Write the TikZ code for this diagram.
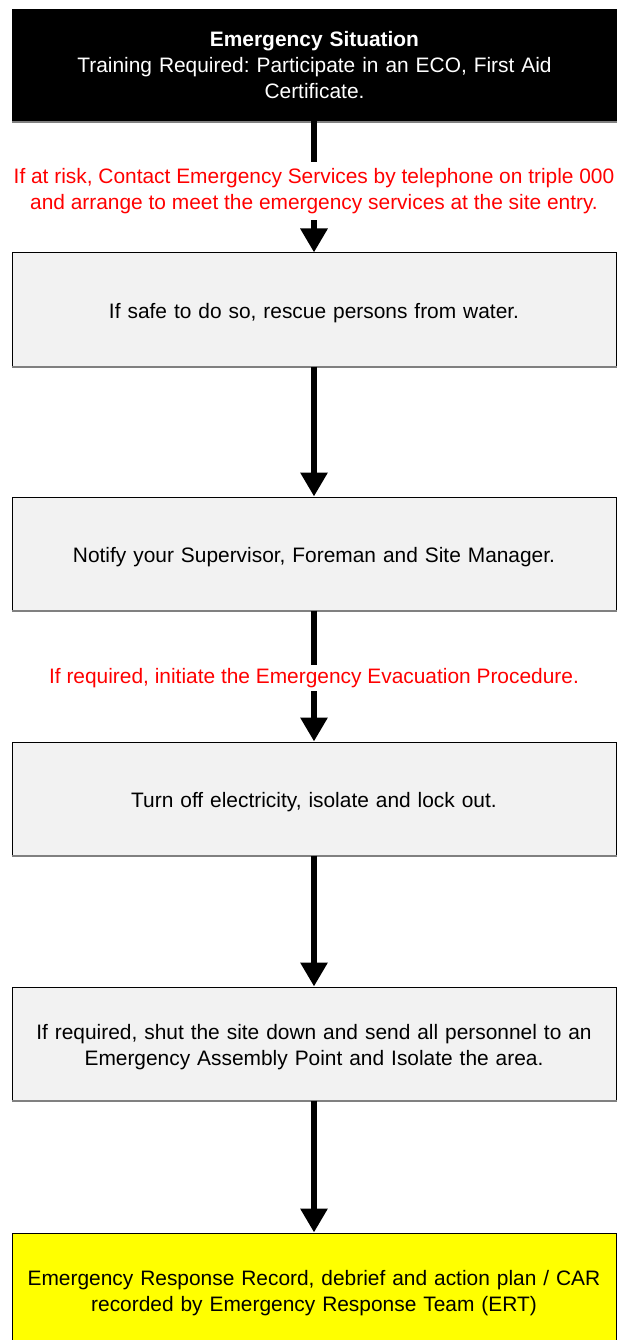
\documentclass[tikz,border=0pt]{standalone}
\usepackage{fontspec}
\setmainfont{Liberation Sans}
\usetikzlibrary{arrows.meta}
\definecolor{boxgray}{HTML}{F2F2F2}
\definecolor{shadowgray}{HTML}{808080}
\definecolor{ylw}{HTML}{FFFF00}
\definecolor{redtxt}{HTML}{FF0000}
\frenchspacing
\begin{document}
\begin{tikzpicture}[x=1pt,y=-1pt,
  every node/.style={font=\fontsize{20.9}{26}\selectfont},
  stepbox/.style={rectangle, draw=black, line width=1pt, fill=boxgray,
    minimum width=604pt, minimum height=113pt, inner sep=0pt},
  boxtext/.style={align=center, text width=600pt, inner sep=0pt, yshift=-3.5pt},
  headbox/.style={rectangle, draw=none, fill=black, text=white,
    minimum width=605pt, minimum height=112pt, align=center, inner sep=0pt,
    text width=600pt},
  endbox/.style={stepbox, fill=ylw},
  redlabel/.style={text=redtxt, fill=white, align=center, inner xsep=0pt},
  flowarrow/.style={line width=6pt, -{Triangle[width=26pt,length=24pt]}},
  shade/.style={shadowgray, line width=2pt}
]
\useasboundingbox (0,0) rectangle (622,1340);

\node[headbox] (top) at (314.5,65) {\textbf{Emergency Situation}\\Training Required: Participate in an ECO, First Aid\\Certificate.};
\node[stepbox, label={[boxtext]center:If safe to do so, rescue persons from water.}] (b2) at (314,309.5) {};
\node[stepbox, label={[boxtext]center:Notify your Supervisor, Foreman and Site Manager.}] (b3) at (314,553.5) {};
\node[stepbox, label={[boxtext]center:Turn off electricity, isolate and lock out.}] (b4) at (314,798.5) {};
\node[stepbox, label={[boxtext]center:{If required, shut the site down and send all personnel to an\\Emergency Assembly Point and Isolate the area.}}] (b5) at (314,1043.5) {};
\node[endbox, label={[boxtext]center:{Emergency Response Record, debrief and action plan / CAR\\recorded by Emergency Response Team (ERT)}}] (b6) at (314,1289.5) {};

\foreach \b in {top,b2,b3,b4,b5}{
  \draw[shade] ([yshift=-0.5pt]\b.south west) -- ([yshift=-0.5pt]\b.south east);
}

\draw[flowarrow] (top.south -| b2.north) -- (b2.north);
\draw[flowarrow] (b2.south) -- (b3.north);
\draw[flowarrow] (b3.south) -- (b4.north);
\draw[flowarrow] (b4.south) -- (b5.north);
\draw[flowarrow] (b5.south) -- (b6.north);

\node[redlabel, inner ysep=6pt] (l1) at (314,191) {If at risk, Contact Emergency Services by telephone on triple 000\\and arrange to meet the emergency services at the site entry.};
\node[redlabel, inner ysep=3pt] (l2) at (314,678) {If required, initiate the Emergency Evacuation Procedure.};
\end{tikzpicture}
\end{document}
